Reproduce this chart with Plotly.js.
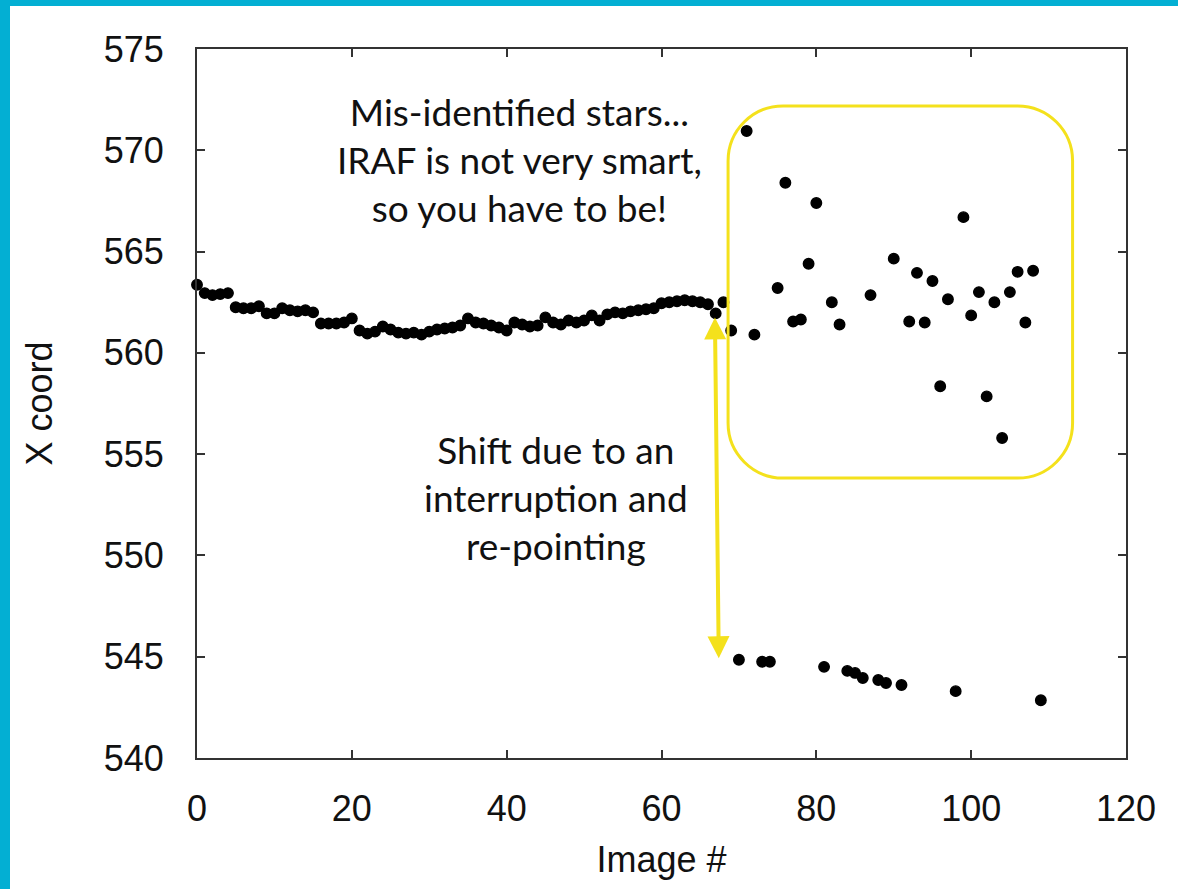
<!DOCTYPE html>
<html>
<head>
<meta charset="utf-8">
<script src="https://cdn.plot.ly/plotly-3.0.1.min.js"></script>
<style>
  html, body { margin: 0; padding: 0; background: #ffffff; }
  #wrap { position: relative; width: 1178px; height: 889px; overflow: hidden; }
  #chart { position: absolute; left: 0; top: 0; width: 1178px; height: 889px; }
  .bar { position: absolute; background: #03AFD3; z-index: 5; }
</style>
</head>
<body>
<div id="wrap">
  <div id="chart"></div>
  <div class="bar" style="left:0;top:0;width:10px;height:889px;"></div>
  <div class="bar" style="left:0;top:0;width:1178px;height:6px;"></div>
</div>
<script>
// ---- data ----
const imageNumbers = [
  0,1,2,3,4,5,6,7,8,9,
  10,11,12,13,14,15,16,17,18,19,
  20,21,22,23,24,25,26,27,28,29,
  30,31,32,33,34,35,36,37,38,39,
  40,41,42,43,44,45,46,47,48,49,
  50,51,52,53,54,55,56,57,58,59,
  60,61,62,63,64,65,66,67,68,69,
  70,71,72,73,74,75,76,77,78,79,
  80,81,82,83,84,85,86,87,88,89,
  90,91,92,93,94,95,96,97,98,99,
  100,101,102,103,104,105,106,107,108,109
];
const xCoords = [
  563.36,562.95,562.85,562.9,562.95,562.25,562.2,562.2,562.3,561.95,
  561.95,562.2,562.1,562.05,562.1,562.0,561.45,561.45,561.45,561.5,
  561.7,561.1,560.95,561.05,561.3,561.15,561.0,560.95,561.0,560.9,
  561.05,561.15,561.2,561.25,561.35,561.7,561.5,561.45,561.35,561.25,
  561.1,561.5,561.4,561.3,561.35,561.75,561.5,561.4,561.6,561.5,
  561.6,561.85,561.6,561.9,562.0,561.95,562.05,562.1,562.15,562.2,
  562.45,562.5,562.55,562.6,562.55,562.5,562.4,561.95,562.5,561.1,
  544.85,570.95,560.9,544.75,544.75,563.2,568.4,561.55,561.65,564.4,
  567.4,544.5,562.5,561.4,544.3,544.2,543.95,562.85,543.85,543.7,
  564.65,543.6,561.55,563.95,561.5,563.55,558.35,562.65,543.3,566.7,
  561.85,563.0,557.85,562.5,555.8,563.0,564.0,561.5,564.05,542.85
];
const xTickVals = [0,20,40,60,80,100,120];
const yTickVals = [540,545,550,555,560,565,570,575];
const xTitle = "Image #";
const yTitle = "X coord";
const noteMisId = ["Mis-identified stars...", "IRAF is not very smart,", "so you have to be!"];
const noteShift = ["Shift due to an", "interruption and", "re-pointing"];

// ---- styling / layout ----
const YELLOW = "#F4E11C";
const AXIS = "#333333";
const tickFont = { family: "Liberation Sans, Arial, sans-serif", size: 36, color: "#111111" };
const noteFont = { family: "Lato, 'Open Sans', sans-serif", size: 37, color: "#111111" };

// rounded rectangle (data units); corner radius given per axis
function roundedRect(x0, x1, y0, y1, rx, ry) {
  const k = 0.5523;
  return [
    `M ${x0 + rx},${y1}`,
    `L ${x1 - rx},${y1}`,
    `C ${x1 - rx * (1 - k)},${y1} ${x1},${y1 - ry * (1 - k)} ${x1},${y1 - ry}`,
    `L ${x1},${y0 + ry}`,
    `C ${x1},${y0 + ry * (1 - k)} ${x1 - rx * (1 - k)},${y0} ${x1 - rx},${y0}`,
    `L ${x0 + rx},${y0}`,
    `C ${x0 + rx * (1 - k)},${y0} ${x0},${y0 + ry * (1 - k)} ${x0},${y0 + ry}`,
    `L ${x0},${y1 - ry}`,
    `C ${x0},${y1 - ry * (1 - k)} ${x0 + rx * (1 - k)},${y1} ${x0 + rx},${y1}`,
    "Z"
  ].join(" ");
}

const trace = {
  x: imageNumbers,
  y: xCoords,
  type: "scatter",
  mode: "markers",
  cliponaxis: false,
  marker: { symbol: "circle", size: 10.5, color: "#000000", line: { width: 1.4, color: "#000000" } },
  hoverinfo: "x+y"
};

const annotations = [
  {
    text: noteMisId.join("<br>"), x: 41.7, y: 569.55, xref: "x", yref: "y",
    showarrow: false, xanchor: "center", yanchor: "middle", align: "center", font: noteFont
  },
  {
    text: noteShift.join("<br>"), x: 46.4, y: 552.85, xref: "x", yref: "y",
    showarrow: false, xanchor: "center", yanchor: "middle", align: "center", font: noteFont
  },
  // double-headed arrow
  {
    text: "", x: 66.9, y: 561.75, xref: "x", yref: "y",
    ax: 67.4, ay: 544.85, axref: "x", ayref: "y",
    showarrow: true, arrowside: "end+start", arrowhead: 2, arrowsize: 1.1,
    arrowwidth: 4, arrowcolor: YELLOW, standoff: 0, startstandoff: 0
  }
];

const layout = {
  width: 1178, height: 889,
  margin: { l: 197, r: 52, t: 49, b: 131 },
  paper_bgcolor: "#ffffff", plot_bgcolor: "#ffffff",
  showlegend: false,
  xaxis: {
    range: [0, 120], tickvals: xTickVals, ticktext: xTickVals.map(String),
    ticks: "inside", ticklen: 8, tickwidth: 2, tickcolor: AXIS,
    showline: true, linewidth: 2, linecolor: AXIS, mirror: "ticks",
    showgrid: false, zeroline: false, tickfont: tickFont, ticklabelstandoff: 18,
    title: { text: xTitle, font: tickFont, standoff: 19 }
  },
  yaxis: {
    range: [540, 575], tickvals: yTickVals, ticktext: yTickVals.map(String),
    ticks: "inside", ticklen: 8, tickwidth: 2, tickcolor: AXIS,
    showline: true, linewidth: 2, linecolor: AXIS, mirror: "ticks",
    showgrid: false, zeroline: false, tickfont: tickFont, ticklabelstandoff: 24,
    title: { text: yTitle, font: tickFont, standoff: 40 }
  },
  shapes: [{
    type: "path", xref: "x", yref: "y",
    path: roundedRect(68.6, 113.1, 553.82, 572.19, 55 / 7.742, 55 / 20.257),
    line: { color: YELLOW, width: 3 }, fillcolor: "rgba(0,0,0,0)", layer: "above"
  }],
  annotations: annotations
};

Plotly.newPlot("chart", [trace], layout, { displayModeBar: false, staticPlot: true });
</script>
</body>
</html>
